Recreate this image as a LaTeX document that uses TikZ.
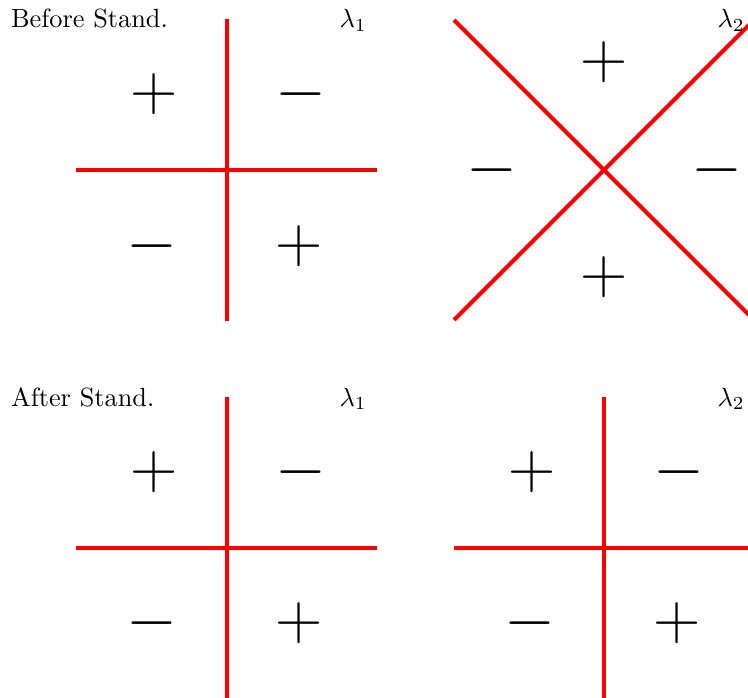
\documentclass[tikz,border=0pt]{standalone}
\begin{document}
\begin{tikzpicture}[x=0.38pt,y=-0.38pt,
  sep/.style={draw=red,line width=1.55pt},
  sgn/.style={inner sep=0pt,font=\fontsize{23}{26}\selectfont},
  lbl/.style={inner sep=0pt,anchor=base west}]
\useasboundingbox (0,0) rectangle (748,698);
\clip (0,0) rectangle (748,698);
% top-left panel
\coordinate (a1) at (227,19); \coordinate (a2) at (227,321);
\coordinate (a3) at (76,170); \coordinate (a4) at (377,170);
\draw[sep] (a1) -- (a2);
\draw[sep] (a3) -- (a4);
\node[sgn] (tl1) at (154,94) {$+$};
\node[sgn] (tl2) at (301,94) {$-$};
\node[sgn] (tl3) at (152,246) {$-$};
\node[sgn] (tl4) at (299,246) {$+$};
\node[lbl] (tlt) at (10.5,28) {Before Stand.};
\node[lbl] (tll) at (339,28) {$\lambda_1$};
% top-right panel
\coordinate (b1) at (454,20); \coordinate (b2) at (754,320);
\coordinate (b3) at (454,320); \coordinate (b4) at (754,20);
\draw[sep] (b1) -- (b2);
\draw[sep] (b3) -- (b4);
\node[sgn] (tr1) at (604,62) {$+$};
\node[sgn] (tr2) at (604,277) {$+$};
\node[sgn] (tr3) at (492,170) {$-$};
\node[sgn] (tr4) at (717,170) {$-$};
\node[lbl] (trl) at (717,28) {$\lambda_2$};
% bottom-left panel
\coordinate (c1) at (227,397); \coordinate (c2) at (227,700);
\coordinate (c3) at (76,548); \coordinate (c4) at (377,548);
\draw[sep] (c1) -- (c2);
\draw[sep] (c3) -- (c4);
\node[sgn] (bl1) at (154,472) {$+$};
\node[sgn] (bl2) at (301,472) {$-$};
\node[sgn] (bl3) at (152,623) {$-$};
\node[sgn] (bl4) at (299,623) {$+$};
\node[lbl] (blt) at (10.5,406) {After Stand.};
\node[lbl] (bll) at (339,406) {$\lambda_1$};
% bottom-right panel
\coordinate (d1) at (604,397); \coordinate (d2) at (604,700);
\coordinate (d3) at (454,548); \coordinate (d4) at (756,548);
\draw[sep] (d1) -- (d2);
\draw[sep] (d3) -- (d4);
\node[sgn] (br1) at (532,472) {$+$};
\node[sgn] (br2) at (679,472) {$-$};
\node[sgn] (br3) at (530,623) {$-$};
\node[sgn] (br4) at (677,623) {$+$};
\node[lbl] (brl) at (717,406) {$\lambda_2$};
\end{tikzpicture}
\end{document}
